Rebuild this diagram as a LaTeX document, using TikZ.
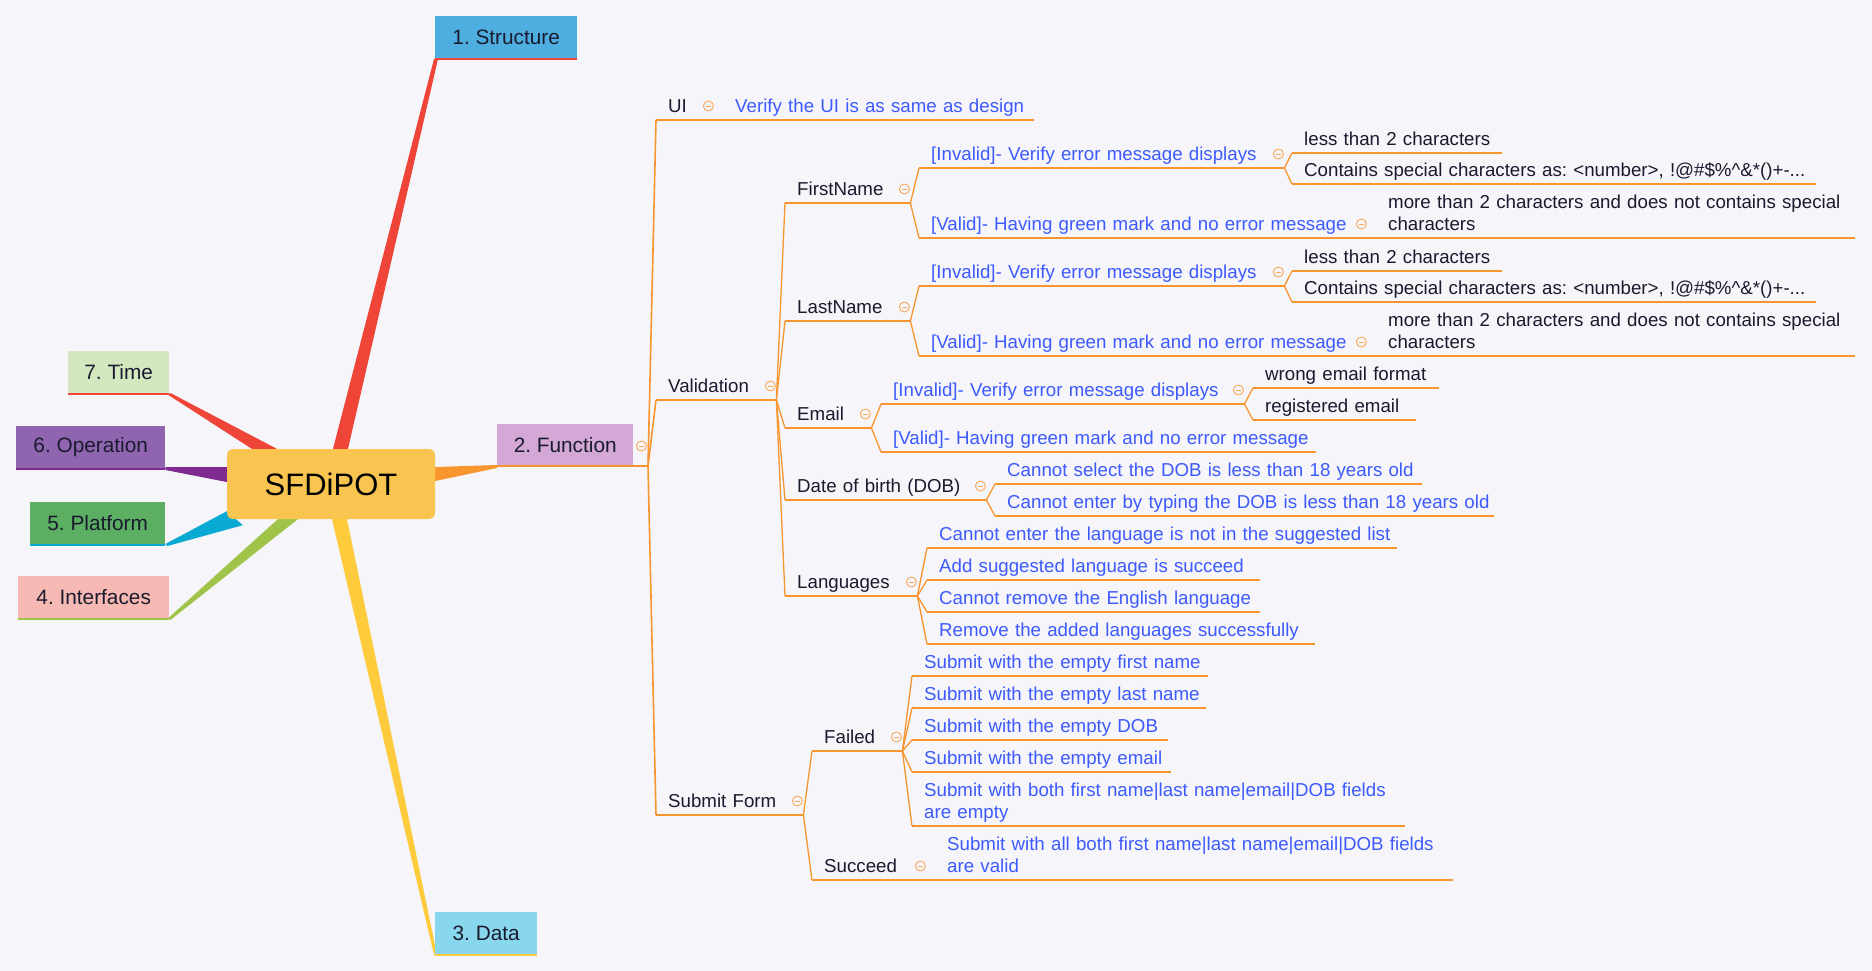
\documentclass[tikz,border=0pt]{standalone}
\usepackage{fontspec}
\setmainfont{Liberation Sans}
\usetikzlibrary{backgrounds}
\definecolor{Paper}{HTML}{F5F5FA}
\definecolor{Ink}{HTML}{1A1A2E}
\definecolor{Leaf}{HTML}{3D5AFE}
\definecolor{Branch}{HTML}{F7962E}
\definecolor{Fold}{HTML}{F9A85A}
\definecolor{Core}{HTML}{F9C450}
\definecolor{Rose}{HTML}{EF4438}
\definecolor{Plum}{HTML}{7F2A8F}
\definecolor{Cyan}{HTML}{08A9D2}
\definecolor{Lime}{HTML}{A0C449}
\definecolor{Sun}{HTML}{FDCB3C}
\definecolor{StructFill}{HTML}{4DAEDF}
\definecolor{FuncFill}{HTML}{D3A8D6}
\definecolor{DataFill}{HTML}{89D7EC}
\definecolor{TimeFill}{HTML}{D4E8C0}
\definecolor{OperFill}{HTML}{8F65B0}
\definecolor{PlatFill}{HTML}{5BAE62}
\definecolor{IntfFill}{HTML}{F6B9B3}
\newcommand{\foldbar}{\rule[-0.4pt]{5pt}{0.8pt}}
\frenchspacing

\begin{document}
\begin{tikzpicture}[x=1pt,y=-1pt,
    core/.style={fill=Core,rounded corners=6pt,minimum width=208pt,minimum height=70pt,
      inner sep=0pt,font=\fontsize{31}{36}\selectfont},
    topic/.style={anchor=south west,minimum height=43pt,inner sep=0pt,text=Ink,
      font=\fontsize{20.8}{25}\selectfont},
    sub/.style={anchor=south west,inner xsep=0pt,inner ysep=3pt,text height=14pt,text depth=4pt,
      text=Ink,font=\fontsize{18.7}{22.5}\selectfont,execute at begin node={\leftskip=12pt\relax}},
    leaf/.style={sub,text=Leaf},
    two/.style={text depth=26.5pt},
    link/.style={draw=Branch,line width=1.3pt},
    fold/.style={circle,draw=Fold,line width=0.9pt,minimum size=10pt,inner sep=0pt,text=Fold},
    rule/.style={line width=2.5pt}
  ]
  \useasboundingbox (0,0) rectangle (1872,971);

  \node[core] (sfd) at (331,484) {SFDiPOT};
  \node[topic,fill=StructFill,minimum width=142pt] (struct) at (435,59) {1. Structure};
  \node[topic,fill=FuncFill,minimum width=136pt,minimum height=42pt] (fn) at (497,466) {2. Function};
  \node[topic,fill=DataFill,minimum width=102pt] (data) at (435,955) {3. Data};
  \node[topic,fill=IntfFill,minimum width=151pt] (intf) at (18,619) {4. Interfaces};
  \node[topic,fill=PlatFill,minimum width=135pt] (plat) at (30,545) {5. Platform};
  \node[topic,fill=OperFill,minimum width=149pt] (oper) at (16,469) {6. Operation};
  \node[topic,fill=TimeFill,minimum width=101pt] (time) at (68,394) {7. Time};

  \foreach \n/\c in {struct/Rose,data/Sun,intf/Lime,plat/Cyan,oper/Plum,time/Rose}
    \draw[\c,rule] (\n.south west) -- (\n.south east);
  \coordinate (hub) at (648,466);
  \draw[Branch,rule] (fn.south west) -- (hub);

  \node[sub,text width=714-656] (ui) at (656,120) {UI};
  \node[leaf,text width=1034-723] (uiv) at (723,120) {Verify the UI is as same as design};
  \node[sub,text width=776-656] (valid) at (656,400) {Validation};
  \node[sub,text width=803-656] (submit) at (656,815) {Submit Form};

  \node[sub,text width=910-785] (fname) at (785,203) {FirstName};
  \node[leaf,text width=1284-919] (fninv) at (919,168) {[Invalid]- Verify error message displays};
  \node[sub,text width=1502-1292] (fnless) at (1292,153) {less than 2 characters};
  \node[sub,text width=1816-1292] (fnspec) at (1292,184) {Contains special characters as: <number>, !@\#\$\%\textasciicircum\&*()+-...};
  \node[leaf,text width=1367-919] (fnval) at (919,238) {[Valid]- Having green mark and no error message};
  \node[sub,two,text width=1855-1376] (fnmore) at (1376,238) {more than 2 characters and does not contains special\\characters};

  \node[sub,text width=910-785] (lname) at (785,321) {LastName};
  \node[leaf,text width=1284-919] (lninv) at (919,286) {[Invalid]- Verify error message displays};
  \node[sub,text width=1502-1292] (lnless) at (1292,271) {less than 2 characters};
  \node[sub,text width=1816-1292] (lnspec) at (1292,302) {Contains special characters as: <number>, !@\#\$\%\textasciicircum\&*()+-...};
  \node[leaf,text width=1367-919] (lnval) at (919,356) {[Valid]- Having green mark and no error message};
  \node[sub,two,text width=1855-1376] (lnmore) at (1376,356) {more than 2 characters and does not contains special\\characters};

  \node[sub,text width=871-785] (email) at (785,428) {Email};
  \node[leaf,text width=1244-881] (eminv) at (881,404) {[Invalid]- Verify error message displays};
  \node[sub,text width=1439-1253] (emfmt) at (1253,388) {wrong email format};
  \node[sub,text width=1416-1253] (emreg) at (1253,420) {registered email};
  \node[leaf,text width=1316-881] (emval) at (881,452) {[Valid]- Having green mark and no error message};

  \node[sub,text width=986-785] (dob) at (785,500) {Date of birth (DOB)};
  \node[leaf,text width=1422-995] (dobsel) at (995,484) {Cannot select the DOB is less than 18 years old};
  \node[leaf,text width=1494-995] (dobtyp) at (995,516) {Cannot enter by typing the DOB is less than 18 years old};

  \node[sub,text width=917-785] (lang) at (785,596) {Languages};
  \node[leaf,text width=1397-927] (lang1) at (927,548) {Cannot enter the language is not in the suggested list};
  \node[leaf,text width=1260-927] (lang2) at (927,580) {Add suggested language is succeed};
  \node[leaf,text width=1260-927] (lang3) at (927,612) {Cannot remove the English language};
  \node[leaf,text width=1315-927] (lang4) at (927,644) {Remove the added languages successfully};

  \node[sub,text width=902-812] (failed) at (812,751) {Failed};
  \node[leaf,text width=1208-912] (fail1) at (912,676) {Submit with the empty first name};
  \node[leaf,text width=1206-912] (fail2) at (912,708) {Submit with the empty last name};
  \node[leaf,text width=1168-912] (fail3) at (912,740) {Submit with the empty DOB};
  \node[leaf,text width=1171-912] (fail4) at (912,772) {Submit with the empty email};
  \node[leaf,two,text width=1405-912] (fail5) at (912,826) {Submit with both first name|last name|email|DOB fields\\are empty};
  \node[sub,text width=926-812] (succeed) at (812,880) {Succeed};
  \node[leaf,two,text width=1453-935] (pass1) at (935,880) {Submit with all both first name|last name|email|DOB fields\\are valid};

  \foreach \n in {ui,valid,submit}
    \draw[link,line width=1.6pt] (hub) -- (\n.south west);
  \foreach \a/\b in {ui/uiv,valid/fname,valid/lname,valid/email,valid/dob,valid/lang,
      fname/fninv,fname/fnval,fninv/fnless,fninv/fnspec,fnval/fnmore,
      lname/lninv,lname/lnval,lninv/lnless,lninv/lnspec,lnval/lnmore,
      email/eminv,email/emval,eminv/emfmt,eminv/emreg,dob/dobsel,dob/dobtyp,
      lang/lang1,lang/lang2,lang/lang3,lang/lang4,submit/failed,submit/succeed,
      failed/fail1,failed/fail2,failed/fail3,failed/fail4,failed/fail5,succeed/pass1}
    \draw[link] (\a.south east) -- (\b.south west);
  \foreach \n in {ui,uiv,valid,submit,fname,fninv,fnless,fnspec,fnval,fnmore,
      lname,lninv,lnless,lnspec,lnval,lnmore,email,eminv,emfmt,emreg,emval,
      dob,dobsel,dobtyp,lang,lang1,lang2,lang3,lang4,
      failed,fail1,fail2,fail3,fail4,fail5,succeed,pass1}
    \draw[link] (\n.south west) -- (\n.south east);

  \foreach \n in {ui,valid,submit,fname,fninv,fnval,lname,lninv,lnval,
      email,eminv,dob,lang,failed,succeed}
    \node[fold] (\n-f) at ([xshift=-6pt,yshift=14pt]\n.south east) {\foldbar};
  \node[fold] (fn-f) at ([xshift=8pt,yshift=20pt]fn.south east) {\foldbar};

  \begin{scope}[on background layer]
    \fill[Paper] (0,0) rectangle (1872,971);
    \fill[Rose] ([xshift=2pt]sfd.north) -- ([xshift=-1pt]struct.south west)
      -- ([xshift=3pt]struct.south west) -- ([xshift=17pt]sfd.north) -- cycle;
    \fill[Rose] ([xshift=25pt]sfd.north west) -- ([xshift=-1pt,yshift=-1pt]time.south east)
      -- ([xshift=1pt,yshift=1pt]time.south east) -- ([xshift=50pt]sfd.north west) -- cycle;
    \fill[Plum] ([yshift=17pt]sfd.west) -- ([yshift=2pt]oper.south east)
      -- ([yshift=-1pt]oper.south east) -- ([yshift=2pt]sfd.west) -- cycle;
    \fill[Cyan] ([yshift=8pt]sfd.south west) -- ([yshift=1pt]plat.south east)
      -- ([xshift=2pt,yshift=-1pt]plat.south east) -- ([xshift=16pt,yshift=-6pt]sfd.south west) -- cycle;
    \fill[Lime] ([xshift=51pt]sfd.south west) -- ([xshift=-1pt,yshift=1pt]intf.south east)
      -- ([xshift=1pt,yshift=-1pt]intf.south east) -- ([xshift=71pt]sfd.south west) -- cycle;
    \fill[Sun] ([xshift=1pt]sfd.south) -- ([xshift=-1pt]data.south west)
      -- ([xshift=2pt]data.south west) -- ([xshift=16pt]sfd.south) -- cycle;
    \fill[Branch] ([yshift=17pt]sfd.east) -- ([yshift=1pt]fn.south west)
      -- ([yshift=-2pt]fn.south west) -- ([yshift=3pt]sfd.east) -- cycle;
  \end{scope}
\end{tikzpicture}
\end{document}
